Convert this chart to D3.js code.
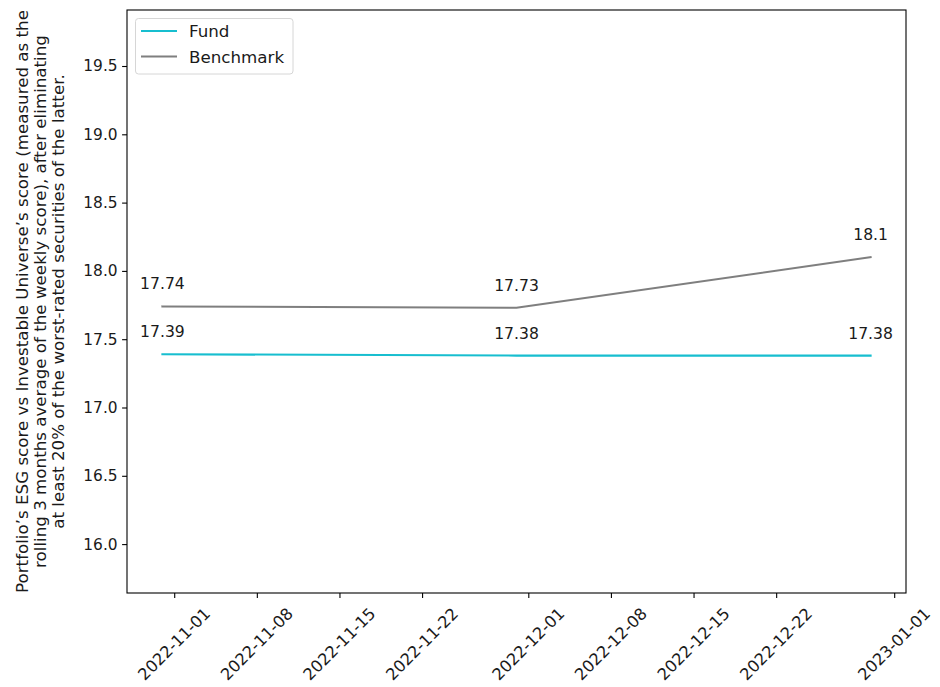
<!DOCTYPE html>
<html>
<head>
<meta charset="utf-8">
<script src="https://cdn.jsdelivr.net/npm/d3@7"></script>
<style>
  body { margin: 0; background: #fff; }
  svg { display: block; font-family: "DejaVu Sans", sans-serif; }
</style>
</head>
<body>
<svg id="chart" width="940" height="687"></svg>
<script>
// Observation dates and the two series
const dates = ["2022-10-31", "2022-11-30", "2022-12-30"];
const fundValues = [17.39, 17.38, 17.38];
const benchmarkValues = [17.74, 17.73, 18.1];
const seriesNames = ["Fund", "Benchmark"];
const seriesColors = ["#17becf", "#7f7f7f"];
const xTickLabels = ["2022-11-01", "2022-11-08", "2022-11-15", "2022-11-22",
                     "2022-12-01", "2022-12-08", "2022-12-15", "2022-12-22", "2023-01-01"];
const yTickValues = [16.0, 16.5, 17.0, 17.5, 18.0, 18.5, 19.0, 19.5];
const yLabelLines = [
  "Portfolio\u2019s ESG score vs Investable Universe\u2019s score (measured as the",
  "rolling 3 months average of the weekly score), after eliminating",
  "at least 20% of the worst-rated securities of the latter."
];

const parse = d3.utcParse("%Y-%m-%d");
const svg = d3.select("#chart");
const plot = { left: 127, right: 906, top: 10, bottom: 593 };
const tickFont = 15.4;
const valueFont = 15.6;
const bigFont = 16.7;
const xTickFont = 16.2;
const ink = "#1a1a1a";

const allDates = dates.map(parse);
const allValues = fundValues.concat(benchmarkValues);

// x domain padded by 5% of the data span on each side
const span = allDates[allDates.length - 1] - allDates[0];
const x = d3.scaleUtc()
  .domain([new Date(+allDates[0] - span * 0.05), new Date(+allDates[allDates.length - 1] + span * 0.05)])
  .range([plot.left, plot.right]);

// y limits at 90% of the minimum and 110% of the maximum
const y = d3.scaleLinear()
  .domain([d3.min(allValues) * 0.9, d3.max(allValues) * 1.1])
  .range([plot.bottom, plot.top]);

// Axes
const xAxis = d3.axisBottom(x)
  .tickValues(xTickLabels.map(parse))
  .tickSize(4.9)
  .tickFormat("");
const gx = svg.append("g")
  .attr("transform", `translate(0,${plot.bottom})`)
  .call(xAxis);
gx.select(".domain").remove();
gx.selectAll(".tick line").attr("stroke", "#000").attr("stroke-width", 1.1);

svg.append("g").selectAll("text")
  .data(xTickLabels)
  .join("text")
  .attr("transform", d => `translate(${x(parse(d))},${plot.bottom + 51}) rotate(-45)`)
  .attr("text-anchor", "middle")
  .attr("dominant-baseline", "central")
  .attr("font-size", xTickFont)
  .attr("fill", ink)
  .text(d => d);

const yAxis = d3.axisLeft(y)
  .tickValues(yTickValues)
  .tickSize(4.9)
  .tickPadding(4.5)
  .tickFormat(d3.format(".1f"));
const gy = svg.append("g")
  .attr("transform", `translate(${plot.left},0)`)
  .call(yAxis);
gy.select(".domain").remove();
gy.selectAll(".tick line").attr("stroke", "#000").attr("stroke-width", 1.1);
gy.selectAll(".tick text")
  .attr("font-size", tickFont)
  .attr("font-family", "DejaVu Sans, sans-serif")
  .attr("fill", ink);

// Y axis title (three centred lines, rotated)
const yMid = (plot.top + plot.bottom) / 2;
const yTitle = svg.append("text")
  .attr("transform", `translate(27.5,${yMid}) rotate(-90)`)
  .attr("text-anchor", "middle")
  .attr("font-size", bigFont)
  .attr("fill", ink);
yTitle.selectAll("tspan")
  .data(yLabelLines)
  .join("tspan")
  .attr("x", 0)
  .attr("dy", (d, i) => i === 0 ? 0 : 18)
  .text(d => d);

// Lines with value labels above each point
const series = [fundValues, benchmarkValues];
const line = d3.line()
  .x((d, i) => x(allDates[i]))
  .y(d => y(d));

series.forEach((vals, s) => {
  svg.append("path")
    .datum(vals)
    .attr("fill", "none")
    .attr("stroke", seriesColors[s])
    .attr("stroke-width", 2.08)
    .attr("stroke-linecap", "square")
    .attr("d", line);

  svg.append("g").selectAll("text")
    .data(vals)
    .join("text")
    .attr("x", (d, i) => x(allDates[i]))
    .attr("y", d => y(d) - 17)
    .attr("text-anchor", "middle")
    .attr("font-size", valueFont)
    .attr("fill", ink)
    .text(d => String(d));
});

// Frame
svg.append("rect")
  .attr("x", plot.left)
  .attr("y", plot.top)
  .attr("width", plot.right - plot.left)
  .attr("height", plot.bottom - plot.top)
  .attr("fill", "none")
  .attr("stroke", "#000")
  .attr("stroke-width", 1.1);

// Legend
const legend = svg.append("g");
legend.append("rect")
  .attr("x", 135.5)
  .attr("y", 18.5)
  .attr("width", 157.5)
  .attr("height", 55.5)
  .attr("rx", 3)
  .attr("fill", "#fff")
  .attr("fill-opacity", 0.8)
  .attr("stroke", "#d6d6d6")
  .attr("stroke-width", 1);
seriesNames.forEach((name, i) => {
  const ly = 31 + i * 25.5;
  legend.append("line")
    .attr("x1", 141).attr("x2", 177)
    .attr("y1", ly).attr("y2", ly)
    .attr("stroke", seriesColors[i])
    .attr("stroke-width", 2.08);
  legend.append("text")
    .attr("x", 189)
    .attr("y", ly)
    .attr("dominant-baseline", "central")
    .attr("font-size", bigFont)
    .attr("fill", ink)
    .text(name);
});
</script>
</body>
</html>
